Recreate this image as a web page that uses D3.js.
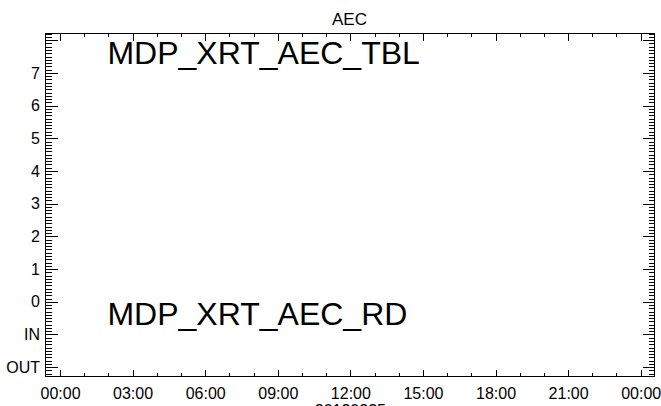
<!DOCTYPE html>
<html>
<head>
<meta charset="utf-8">
<script src="https://cdn.jsdelivr.net/npm/d3@7"></script>
<style>
  html, body { margin: 0; padding: 0; background: #fff; }
  svg { display: block; font-family: "Liberation Sans", Arial, sans-serif; }
</style>
</head>
<body>
<div id="chart"></div>
<script>
// ---- data ----
const title = "AEC";
const dateLabel = "20120225";
const xDomainHours = [-0.62, 24.55];
const xMajorHours = [0, 3, 6, 9, 12, 15, 18, 21, 24];
const xTickLabels = ["00:00", "03:00", "06:00", "09:00", "12:00", "15:00", "18:00", "21:00", "00:00"];
const yDomain = [-2.27, 8.22];
const yMajorValues = [-2, -1, 0, 1, 2, 3, 4, 5, 6, 7, 8];
const yTickLabels = ["OUT", "IN", "0", "1", "2", "3", "4", "5", "6", "7", ""];
const annotations = ["MDP_XRT_AEC_TBL", "MDP_XRT_AEC_RD"];
const annotationY = [7.26, -0.71];
const annotationHour = [1.96, 1.96];

// ---- layout ----
const W = 661, H = 406;
const m = { left: 45, right: 7, top: 33, bottom: 30 };
const svg = d3.select("#chart").append("svg").attr("width", W).attr("height", H);

const x = d3.scaleLinear().domain(xDomainHours).range([m.left, W - m.right]);
const y = d3.scaleLinear().domain(yDomain).range([H - m.bottom, m.top]);

const xMinor = d3.range(0, 25, 1).filter(h => h % 3 !== 0);
const yMinor = d3.range(-22, 83).map(v => v / 10).filter(v => Math.abs(v - Math.round(v)) > 1e-6 && v >= yDomain[0] && v <= yDomain[1]);

const g = svg.append("g");
const px = 0.5;

// Bottom axis
const bottomMajor = d3.axisBottom(x).tickValues(xMajorHours).tickSize(-7)
  .tickFormat((d, i) => xTickLabels[i]).tickPadding(11);
g.append("g").attr("transform", `translate(0,${H - m.bottom + px})`).call(bottomMajor);
const bMin = d3.axisBottom(x).tickValues(xMinor).tickSize(-3.5).tickFormat("");
g.append("g").attr("transform", `translate(0,${H - m.bottom + px})`).call(bMin);

// Top axis
const tMaj = d3.axisTop(x).tickValues(xMajorHours).tickSize(-7).tickFormat("");
g.append("g").attr("transform", `translate(0,${m.top + px})`).call(tMaj);
const tMin = d3.axisTop(x).tickValues(xMinor).tickSize(-3.5).tickFormat("");
g.append("g").attr("transform", `translate(0,${m.top + px})`).call(tMin);

// Left axis
const lMaj = d3.axisLeft(y).tickValues(yMajorValues).tickSize(-12)
  .tickFormat((d, i) => yTickLabels[i]).tickPadding(6);
const lAx = g.append("g").attr("transform", `translate(${m.left + px},0)`).call(lMaj);
lAx.selectAll("text").attr("x", -5.5);
const lMin = d3.axisLeft(y).tickValues(yMinor).tickSize(-6).tickFormat("");
g.append("g").attr("transform", `translate(${m.left + px},0)`).call(lMin);

// Right axis
const rMaj = d3.axisRight(y).tickValues(yMajorValues).tickSize(-12).tickFormat("");
g.append("g").attr("transform", `translate(${W - m.right + px},0)`).call(rMaj);
const rMin = d3.axisRight(y).tickValues(yMinor).tickSize(-6).tickFormat("");
g.append("g").attr("transform", `translate(${W - m.right + px},0)`).call(rMin);

g.selectAll(".domain").remove();
g.selectAll(".tick text").filter(function () { return !this.textContent; }).remove();
g.selectAll(".tick line").attr("stroke", "#000").attr("stroke-width", 1).attr("shape-rendering", "crispEdges");
g.selectAll(".tick text").attr("fill", "#000").attr("font-size", 16)
  .attr("font-family", "'Liberation Sans', Arial, sans-serif");

// Frame
svg.append("rect")
  .attr("x", m.left + px).attr("y", m.top + px)
  .attr("width", W - m.right - m.left).attr("height", H - m.bottom - m.top)
  .attr("fill", "none").attr("stroke", "#000").attr("stroke-width", 1)
  .attr("shape-rendering", "crispEdges");

// Title
svg.append("text").attr("x", (m.left + W - m.right) / 2).attr("y", 25)
  .attr("text-anchor", "middle").attr("font-size", 17).attr("fill", "#000").text(title);

// Date label under axis (mostly clipped, as in the reference)
svg.append("text").attr("x", x(12)).attr("y", 416)
  .attr("text-anchor", "middle").attr("font-size", 16).attr("fill", "#000").text(dateLabel);

// Annotations
annotations.forEach((t, i) => {
  svg.append("text").attr("x", x(annotationHour[i])).attr("y", y(annotationY[i]))
    .attr("font-size", 32).attr("fill", "#000").text(t);
});
</script>
</body>
</html>
